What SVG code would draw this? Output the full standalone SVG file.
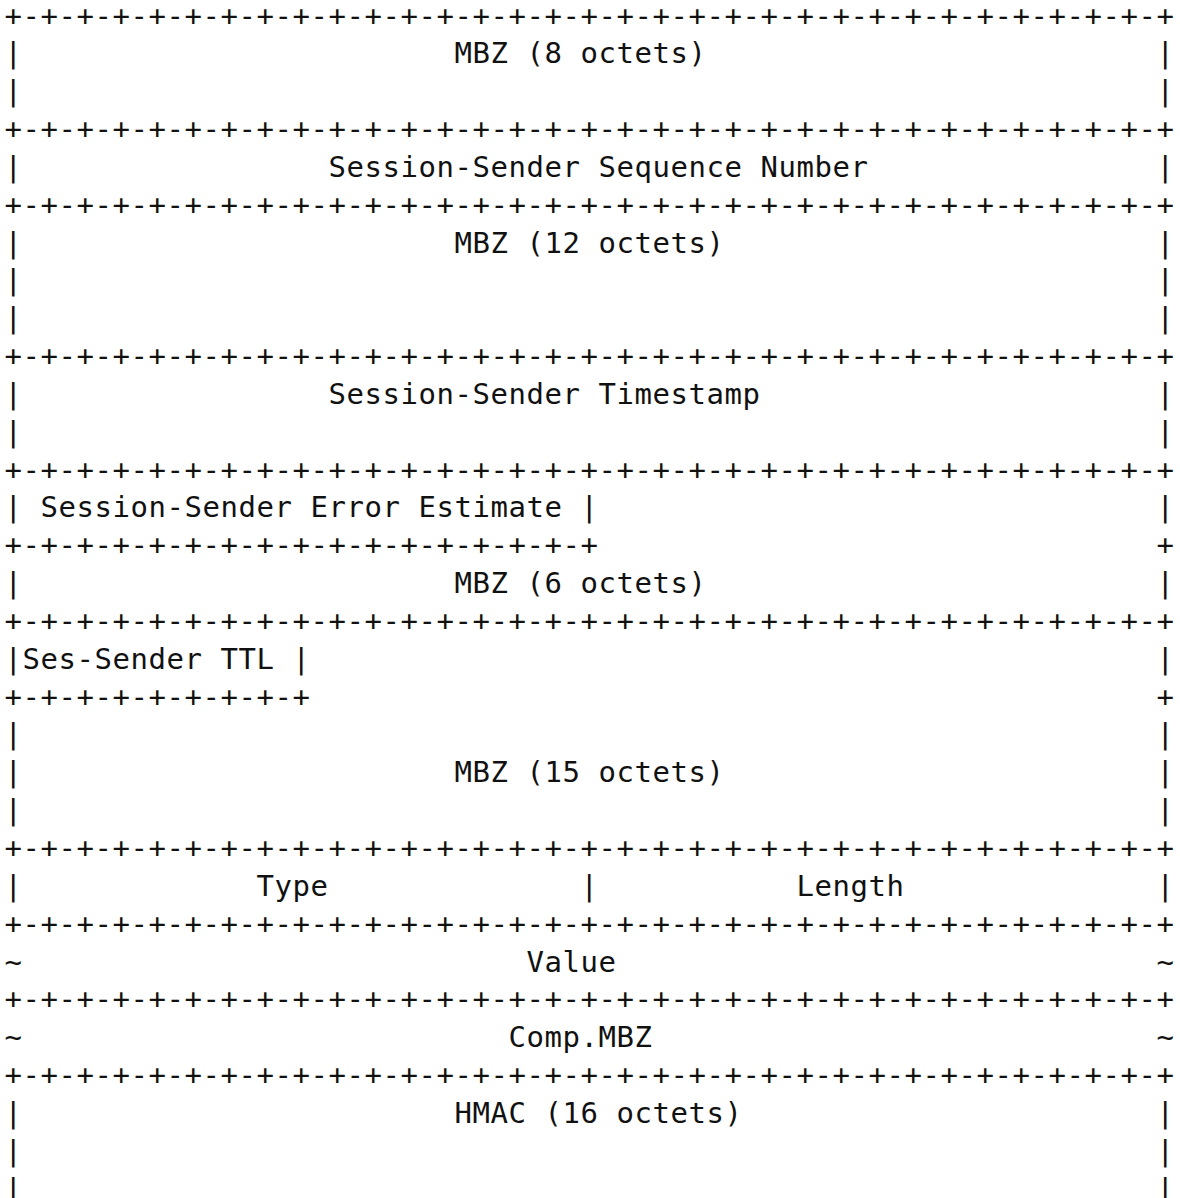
<svg xmlns="http://www.w3.org/2000/svg" width="1180" height="1198" viewBox="0 0 1180 1198">
<style>
text{font-family:"DejaVu Sans Mono","Liberation Mono",monospace;font-size:29px;letter-spacing:0.541px;fill:#111;white-space:pre}
</style>
<rect width="1180" height="1198" fill="#fff"/>
<g id="connectors">
<text x="4.5" y="25.5">+-+-+-+-+-+-+-+-+-+-+-+-+-+-+-+-+-+-+-+-+-+-+-+-+-+-+-+-+-+-+-+-+</text>
<text x="4.5" y="139.02">+-+-+-+-+-+-+-+-+-+-+-+-+-+-+-+-+-+-+-+-+-+-+-+-+-+-+-+-+-+-+-+-+</text>
<text x="4.5" y="214.7">+-+-+-+-+-+-+-+-+-+-+-+-+-+-+-+-+-+-+-+-+-+-+-+-+-+-+-+-+-+-+-+-+</text>
<text x="4.5" y="366.06">+-+-+-+-+-+-+-+-+-+-+-+-+-+-+-+-+-+-+-+-+-+-+-+-+-+-+-+-+-+-+-+-+</text>
<text x="4.5" y="479.58">+-+-+-+-+-+-+-+-+-+-+-+-+-+-+-+-+-+-+-+-+-+-+-+-+-+-+-+-+-+-+-+-+</text>
<text x="4.5" y="555.26">+-+-+-+-+-+-+-+-+-+-+-+-+-+-+-+-+</text>
<text x="1156.5" y="555.26">+</text>
<text x="4.5" y="630.94">+-+-+-+-+-+-+-+-+-+-+-+-+-+-+-+-+-+-+-+-+-+-+-+-+-+-+-+-+-+-+-+-+</text>
<text x="4.5" y="706.62">+-+-+-+-+-+-+-+-+</text>
<text x="1156.5" y="706.62">+</text>
<text x="4.5" y="857.98">+-+-+-+-+-+-+-+-+-+-+-+-+-+-+-+-+-+-+-+-+-+-+-+-+-+-+-+-+-+-+-+-+</text>
<text x="4.5" y="933.66">+-+-+-+-+-+-+-+-+-+-+-+-+-+-+-+-+-+-+-+-+-+-+-+-+-+-+-+-+-+-+-+-+</text>
<text x="4.5" y="1009.34">+-+-+-+-+-+-+-+-+-+-+-+-+-+-+-+-+-+-+-+-+-+-+-+-+-+-+-+-+-+-+-+-+</text>
<text x="4.5" y="1085.02">+-+-+-+-+-+-+-+-+-+-+-+-+-+-+-+-+-+-+-+-+-+-+-+-+-+-+-+-+-+-+-+-+</text>
</g>
<g id="mbz8">
<text x="4.5" y="63.34">|</text><text x="454.5" y="63.34">MBZ (8 octets)</text><text x="1156.5" y="63.34">|</text>
<text x="4.5" y="101.18">|</text><text x="1156.5" y="101.18">|</text>
</g>
<g id="seqnum">
<text x="4.5" y="176.86">|</text><text x="328.5" y="176.86">Session-Sender Sequence Number</text><text x="1156.5" y="176.86">|</text>
</g>
<g id="mbz12">
<text x="4.5" y="252.54">|</text><text x="454.5" y="252.54">MBZ (12 octets)</text><text x="1156.5" y="252.54">|</text>
<text x="4.5" y="290.38">|</text><text x="1156.5" y="290.38">|</text>
<text x="4.5" y="328.22">|</text><text x="1156.5" y="328.22">|</text>
</g>
<g id="timestamp">
<text x="4.5" y="403.9">|</text><text x="328.5" y="403.9">Session-Sender Timestamp</text><text x="1156.5" y="403.9">|</text>
<text x="4.5" y="441.74">|</text><text x="1156.5" y="441.74">|</text>
</g>
<g id="errest">
<text x="4.5" y="517.42">|</text><text x="40.5" y="517.42">Session-Sender Error Estimate</text><text x="580.5" y="517.42">|</text><text x="1156.5" y="517.42">|</text>
</g>
<g id="mbz6">
<text x="4.5" y="593.1">|</text><text x="454.5" y="593.1">MBZ (6 octets)</text><text x="1156.5" y="593.1">|</text>
</g>
<g id="ttl">
<text x="4.5" y="668.78">|</text><text x="22.5" y="668.78">Ses-Sender TTL</text><text x="292.5" y="668.78">|</text><text x="1156.5" y="668.78">|</text>
</g>
<g id="mbz15">
<text x="4.5" y="744.46">|</text><text x="1156.5" y="744.46">|</text>
<text x="4.5" y="782.3">|</text><text x="454.5" y="782.3">MBZ (15 octets)</text><text x="1156.5" y="782.3">|</text>
<text x="4.5" y="820.14">|</text><text x="1156.5" y="820.14">|</text>
</g>
<g id="type-length">
<text x="4.5" y="895.82">|</text><text x="256.5" y="895.82">Type</text><text x="580.5" y="895.82">|</text><text x="796.5" y="895.82">Length</text><text x="1156.5" y="895.82">|</text>
</g>
<g id="value">
<text x="4.5" y="971.5">~</text><text x="526.5" y="971.5">Value</text><text x="1156.5" y="971.5">~</text>
</g>
<g id="compmbz">
<text x="4.5" y="1047.18">~</text><text x="508.5" y="1047.18">Comp.MBZ</text><text x="1156.5" y="1047.18">~</text>
</g>
<g id="hmac">
<text x="4.5" y="1122.86">|</text><text x="454.5" y="1122.86">HMAC (16 octets)</text><text x="1156.5" y="1122.86">|</text>
<text x="4.5" y="1160.7">|</text><text x="1156.5" y="1160.7">|</text>
<text x="4.5" y="1198.54">|</text><text x="1156.5" y="1198.54">|</text>
</g>
</svg>
